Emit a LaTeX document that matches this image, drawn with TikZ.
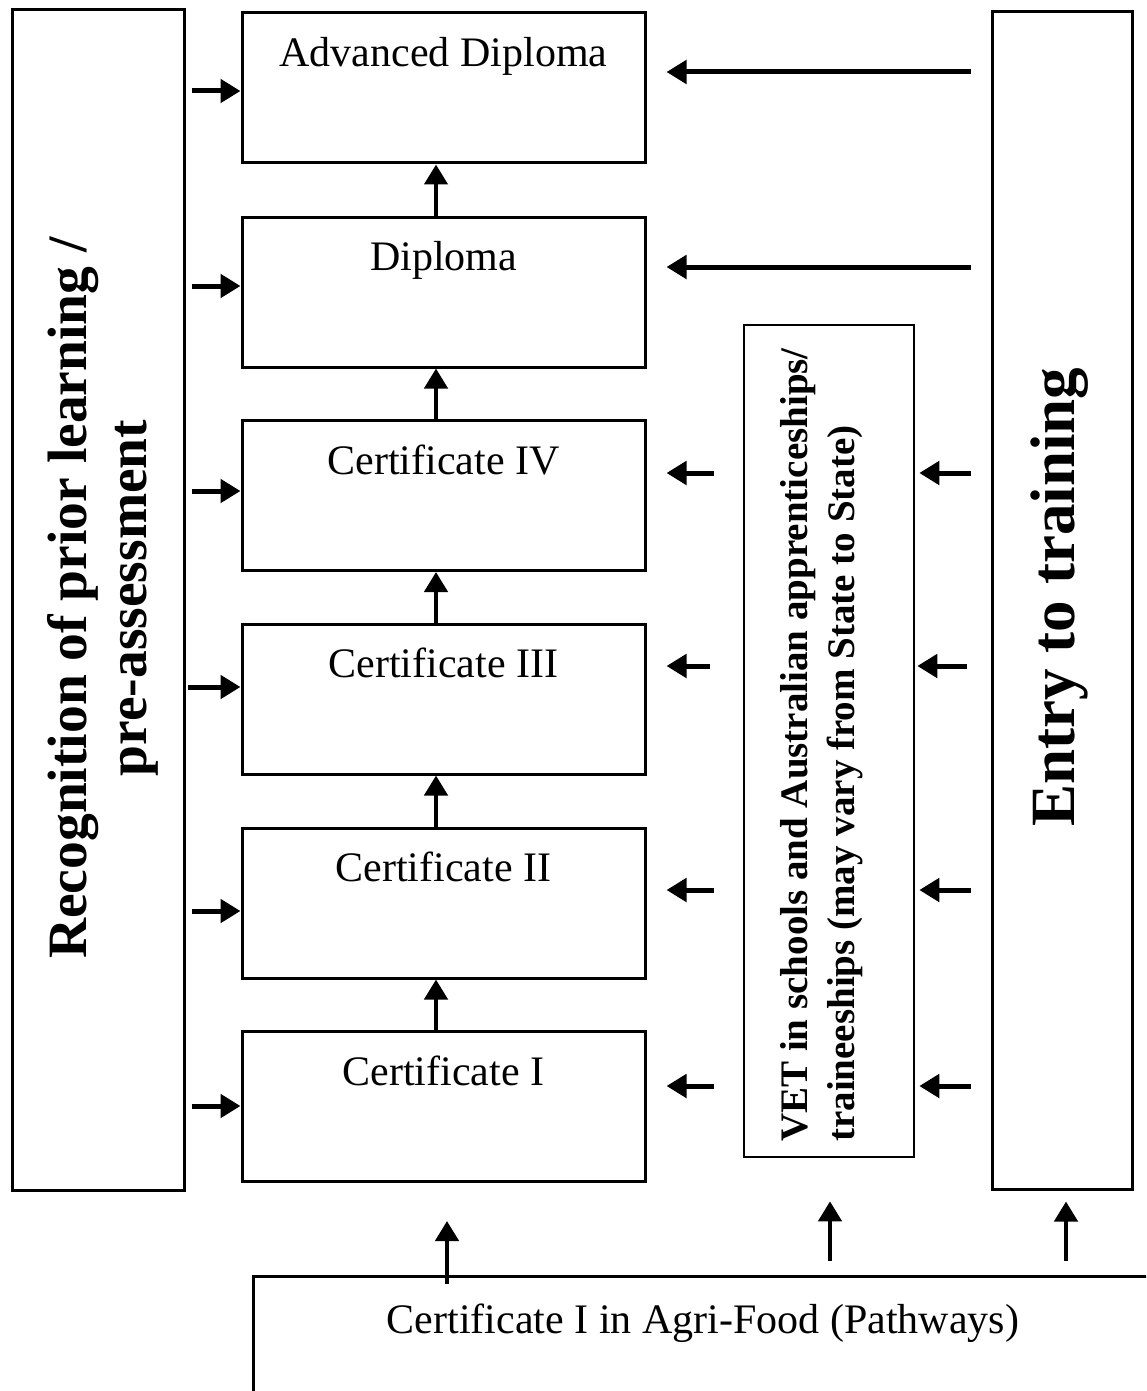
\documentclass[tikz,border=0pt]{standalone}
\usepackage{fontspec}
\setmainfont{Liberation Serif}
\usetikzlibrary{arrows.meta}
\begin{document}
\begin{tikzpicture}[x=1pt,y=-1pt,
  box/.style={draw, line width=3pt, inner sep=0pt},
  lvl/.style={box, minimum width=403pt, minimum height=150pt},
  lbl/.style={anchor=base, inner sep=0pt, font=\fontsize{42}{50}\selectfont},
  arr/.style={line width=5pt, -{Triangle[length=20pt,width=23pt]}},
  varr/.style={line width=4.5pt, -{Triangle[length=20pt,width=23pt]}}]
\useasboundingbox (0,0) rectangle (1146,1391);
\clip (0,0) rectangle (1146,1391);
\fill[white] (0,0) rectangle (1146,1391);
% side boxes
\node[box, minimum width=172pt, minimum height=1180pt] (rpl) at (98,600) {};
\node[box, minimum width=140pt, minimum height=1177pt] (entry) at (1062,600.5) {};
\node[box, line width=2.6pt, minimum width=170pt, minimum height=832pt] (vet) at (829,741) {};
\node[box, minimum width=906pt, minimum height=130pt] (agri) at (706,1341) {};
% level boxes
\node[lvl] (adv) at (443.5,88) {};
\node[lvl] (dip) at (443.5,292) {};
\node[lvl] (c4) at (443.5,495.5) {};
\node[lvl] (c3) at (443.5,699) {};
\node[lvl] (c2) at (443.5,903) {};
\node[lvl] (c1) at (443.5,1106.5) {};
% labels
\node[lbl] (tadv) at ([yshift=-55pt]adv.north) {Advanced Diploma};
\node[lbl] (tdip) at ([yshift=-55pt]dip.north) {Diploma};
\node[lbl] (tc4) at ([yshift=-55pt]c4.north) {Certificate IV};
\node[lbl] (tc3) at ([yshift=-55pt]c3.north) {Certificate III};
\node[lbl] (tc2) at ([yshift=-55pt]c2.north) {Certificate II};
\node[lbl] (tc1) at ([yshift=-55pt]c1.north) {Certificate I};
\node[lbl] (tagri) at (703,1333) {Certificate I in Agri-Food (Pathways)};
\node[rotate=90, align=center, inner sep=0pt, font=\bfseries\fontsize{55.5}{60}\selectfont] (trpl) at (103,598) {Recognition of prior learning /\\pre-assessment};
\node[rotate=90, inner sep=0pt, font=\bfseries\fontsize{63}{70}\selectfont] (tentry) at (1060,597) {Entry to training};
\node[rotate=90, align=left, inner sep=0pt, font=\bfseries\fontsize{39}{47}\selectfont] (tvet) at (822,745) {VET in schools and Australian apprenticeships/\\traineeships (may vary from State to State)};
% vertical arrows between levels
\draw[varr] (dip.north -| 436,0) -- (adv.south -| 436,0);
\draw[varr] (c4.north -| 436,0) -- (dip.south -| 436,0);
\draw[varr] (c3.north -| 436,0) -- (c4.south -| 436,0);
\draw[varr] (c2.north -| 436,0) -- (c3.south -| 436,0);
\draw[varr] (c1.north -| 436,0) -- (c2.south -| 436,0);
% left arrows
\draw[arr] ([xshift=6pt]rpl.east |- 0,91) -- (adv.west |- 0,91);
\draw[arr] ([xshift=6pt]rpl.east |- 0,286) -- (dip.west |- 0,286);
\draw[arr] ([xshift=6pt]rpl.east |- 0,491) -- (c4.west |- 0,491);
\draw[arr] ([xshift=2pt]rpl.east |- 0,687) -- (c3.west |- 0,687);
\draw[arr] ([xshift=6pt]rpl.east |- 0,911) -- (c2.west |- 0,911);
\draw[arr] ([xshift=6pt]rpl.east |- 0,1106) -- (c1.west |- 0,1106);
% long arrows from entry to diplomas
\draw[arr] ([xshift=-20pt]entry.west |- 0,72) -- ([xshift=20pt]adv.east |- 0,72);
\draw[arr] ([xshift=-20pt]entry.west |- 0,267) -- ([xshift=20pt]dip.east |- 0,267);
% short arrows vet -> certificates
\draw[arr] ([xshift=-29pt]vet.west |- 0,473) -- ([xshift=20pt]c4.east |- 0,473);
\draw[arr] ([xshift=-33pt]vet.west |- 0,666) -- ([xshift=20pt]c3.east |- 0,666);
\draw[arr] ([xshift=-29pt]vet.west |- 0,890) -- ([xshift=20pt]c2.east |- 0,890);
\draw[arr] ([xshift=-29pt]vet.west |- 0,1086) -- ([xshift=20pt]c1.east |- 0,1086);
% short arrows entry -> vet
\draw[arr] ([xshift=-20pt]entry.west |- 0,473) -- ([xshift=4pt]vet.east |- 0,473);
\draw[arr] ([xshift=-24pt]entry.west |- 0,666) -- ([xshift=2pt]vet.east |- 0,666);
\draw[arr] ([xshift=-20pt]entry.west |- 0,890) -- ([xshift=4pt]vet.east |- 0,890);
\draw[arr] ([xshift=-20pt]entry.west |- 0,1086) -- ([xshift=4pt]vet.east |- 0,1086);
% bottom arrows
\draw[varr] ([yshift=-9pt]agri.north -| 447,0) -- ([yshift=-38pt]c1.south -| 447,0);
\draw[varr] ([yshift=14pt]agri.north -| 830,0) -- ([yshift=-43pt]vet.south -| 830,0);
\draw[varr] ([yshift=14pt]agri.north -| 1066,0) -- ([yshift=-11pt]entry.south -| 1066,0);
\end{tikzpicture}
\end{document}
